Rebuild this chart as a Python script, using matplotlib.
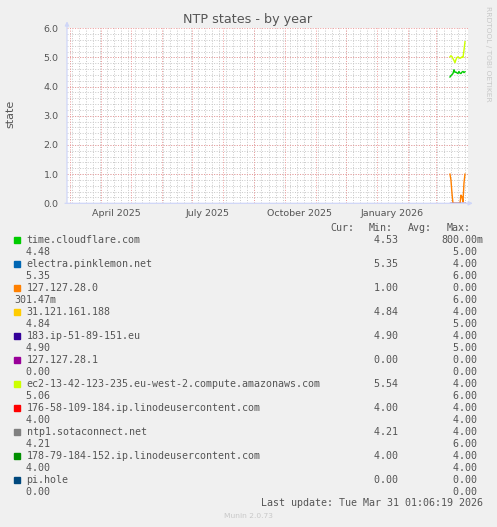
import datetime as dt
import numpy as np
import matplotlib
matplotlib.use('Agg')
import matplotlib.pyplot as plt
import matplotlib.dates as mdates
from matplotlib.patches import Rectangle

# ---- data ----------------------------------------------------------------
days = [dt.datetime(2026, 3, 15) + dt.timedelta(days=i) for i in range(16)]

cloudflare = [4.33, 4.38, 4.41, 4.45, 4.58, 4.49, 4.50, 4.47,
              4.45, 4.52, 4.46, 4.45, 4.50, 4.52, 4.48, 4.51]
ec2_amazon = [5.02, 5.06, 5.03, 4.96, 4.90, 4.82, 4.93, 5.00,
              5.02, 4.99, 4.97, 4.99, 5.02, 5.00, 5.25, 5.54]
local_28_0 = [1.00, 0.80, 0.35, 0.00, 0.00, 0.00, 0.00, 0.00,
              0.00, 0.00, 0.00, 0.28, 0.22, 0.05, 0.70, 1.00]
local_28_1 = [0.0] * 16
pihole = [0.0] * 16

names = ["time.cloudflare.com", "electra.pinklemon.net", "127.127.28.0",
         "31.121.161.188", "183.ip-51-89-151.eu", "127.127.28.1",
         "ec2-13-42-123-235.eu-west-2.compute.amazonaws.com",
         "176-58-109-184.ip.linodeusercontent.com", "ntp1.sotaconnect.net",
         "178-79-184-152.ip.linodeusercontent.com", "pi.hole"]
colors = ["#00CC00", "#0066B3", "#FF8000", "#FFCC00", "#330099", "#990099",
          "#CCFF00", "#FF0000", "#808080", "#008F00", "#00487D"]
min_col = ["4.53", "5.35", "1.00", "4.84", "4.90", "0.00", "5.54", "4.00", "4.21", "4.00", "0.00"]
max_col1 = ["800.00m", "4.00", "0.00", "4.00", "4.00", "0.00", "4.00", "4.00", "4.00", "4.00", "0.00"]
cur_col2 = ["4.48", "5.35", "301.47m", "4.84", "4.90", "0.00", "5.06", "4.00", "4.21", "4.00", "0.00"]
max_col2 = ["5.00", "6.00", "6.00", "5.00", "5.00", "0.00", "6.00", "4.00", "6.00", "4.00", "0.00"]

month_labels = ["April 2025", "July 2025", "October 2025", "January 2026"]
month_label_dates = [dt.datetime(2025, 4, 16), dt.datetime(2025, 7, 16),
                     dt.datetime(2025, 10, 16), dt.datetime(2026, 1, 16)]
# --------------------------------------------------------------------------

W, H = 497, 527
BG = '#F0F0F0'
FONT = '#555555'
AXIS = '#CFD6F8'
MGRID = '#EE9A9A'
GRID = '#C8C8C8'


def fx(x):
    return x / W


def fy(y):
    return 1 - y / H


fig = plt.figure(figsize=(W / 100, H / 100), dpi=100, facecolor=BG)
ax = fig.add_axes([fx(67), fy(203.3), fx(468) - fx(67), fy(28.3) - fy(203.3)])
ax.set_facecolor('white')

x0, x1 = dt.datetime(2025, 2, 26), dt.datetime(2026, 4, 2)
ax.set_xlim(x0, x1)
ax.set_ylim(0, 6)

# grid: weekly / monthly verticals, 0.2 / 1.0 horizontals
dot = (0, (1, 1.6))
d = dt.datetime(2025, 3, 3)
while d < x1:
    ax.axvline(d, color=GRID, lw=0.7, ls=dot, zorder=1)
    d += dt.timedelta(days=7)
for y in np.arange(0.2, 6.0, 0.2):
    ax.axhline(y, color=GRID, lw=0.7, ls=dot, zorder=1)
for m in range(13):
    yr, mo = 2025 + (2 + m) // 12, (2 + m) % 12 + 1
    ax.axvline(dt.datetime(yr, mo, 1), color=MGRID, lw=0.7, ls=dot, zorder=2)
for y in range(0, 7):
    ax.axhline(y, color=MGRID, lw=0.7, ls=dot, zorder=2)

# data lines
ax.plot(days, cloudflare, color=colors[0], lw=1.0, zorder=5)
ax.plot(days, local_28_0, color=colors[2], lw=1.0, zorder=5)
ax.plot(days, local_28_1, color=colors[5], lw=1.0, zorder=5)
ax.plot(days, ec2_amazon, color=colors[6], lw=1.0, zorder=5)
ax.plot(days, pihole, color='#5D7FB0', lw=1.0, zorder=6)

for s in ax.spines.values():
    s.set_visible(False)

# axes with arrows
ax.annotate('', xy=(0, 1.04), xytext=(0, 0), xycoords='axes fraction',
            arrowprops=dict(arrowstyle='-|>', color=AXIS, lw=0.9, mutation_scale=6,
                            shrinkA=0, shrinkB=0), annotation_clip=False, zorder=7)
ax.annotate('', xy=(1.012, 0), xytext=(-0.005, 0), xycoords='axes fraction',
            arrowprops=dict(arrowstyle='-|>', color=AXIS, lw=0.9, mutation_scale=6,
                            shrinkA=0, shrinkB=0), annotation_clip=False, zorder=7)

ax.set_yticks(range(7))
ax.set_yticklabels(['%.1f' % v for v in range(7)])
ax.set_xticks(month_label_dates)
ax.set_xticklabels(month_labels)
ax.tick_params(axis='both', length=0, colors=FONT, labelsize=6.8)
ax.tick_params(axis='y', pad=6)
ax.tick_params(axis='x', pad=4)

fig.text(fx(248), fy(19), 'NTP states - by year', ha='center', va='center',
         fontsize=9.2, color=FONT)
fig.text(fx(10), fy(114), 'state', ha='center', va='center', rotation=90,
         fontsize=8, color=FONT)
fig.text(fx(488), fy(54), 'RRDTOOL / TOBI OETIKER', ha='center', va='center',
         rotation=270, fontsize=5.4, color='#C8C8C8')

# legend block
mono = dict(family='DejaVu Sans Mono', fontsize=7.2, color=FONT, va='center')
fig.text(fx(330), fy(228), 'Cur:', ha='left', **mono)
fig.text(fx(369), fy(228), 'Min:', ha='left', **mono)
fig.text(fx(408), fy(228), 'Avg:', ha='left', **mono)
fig.text(fx(447), fy(228), 'Max:', ha='left', **mono)


def unit(s):
    return s if s.endswith('m') else s + ' '


for i, name in enumerate(names):
    y1 = 240 + 24 * i
    y2 = y1 + 12
    fig.patches.append(Rectangle((fx(14), fy(y1 + 3)), fx(6), 6 / H,
                                 transform=fig.transFigure, color=colors[i]))
    fig.text(fx(26.5), fy(y1), name, ha='left', **mono)
    fig.text(fx(404.5), fy(y1), unit(min_col[i]), ha='right', **mono)
    fig.text(fx(483), fy(y1), unit(max_col1[i]), ha='right', **mono)
    fig.text(fx(56.5), fy(y2), unit(cur_col2[i]), ha='right', **mono)
    fig.text(fx(483), fy(y2), unit(max_col2[i]), ha='right', **mono)

fig.text(fx(483), fy(503.5), 'Last update: Tue Mar 31 01:06:19 2026', ha='right', **mono)
fig.text(fx(248), fy(516), 'Munin 2.0.73', ha='center', va='center',
         fontsize=5.4, color='#C8C8C8')

fig.savefig('out.png', dpi=100, facecolor=BG)
